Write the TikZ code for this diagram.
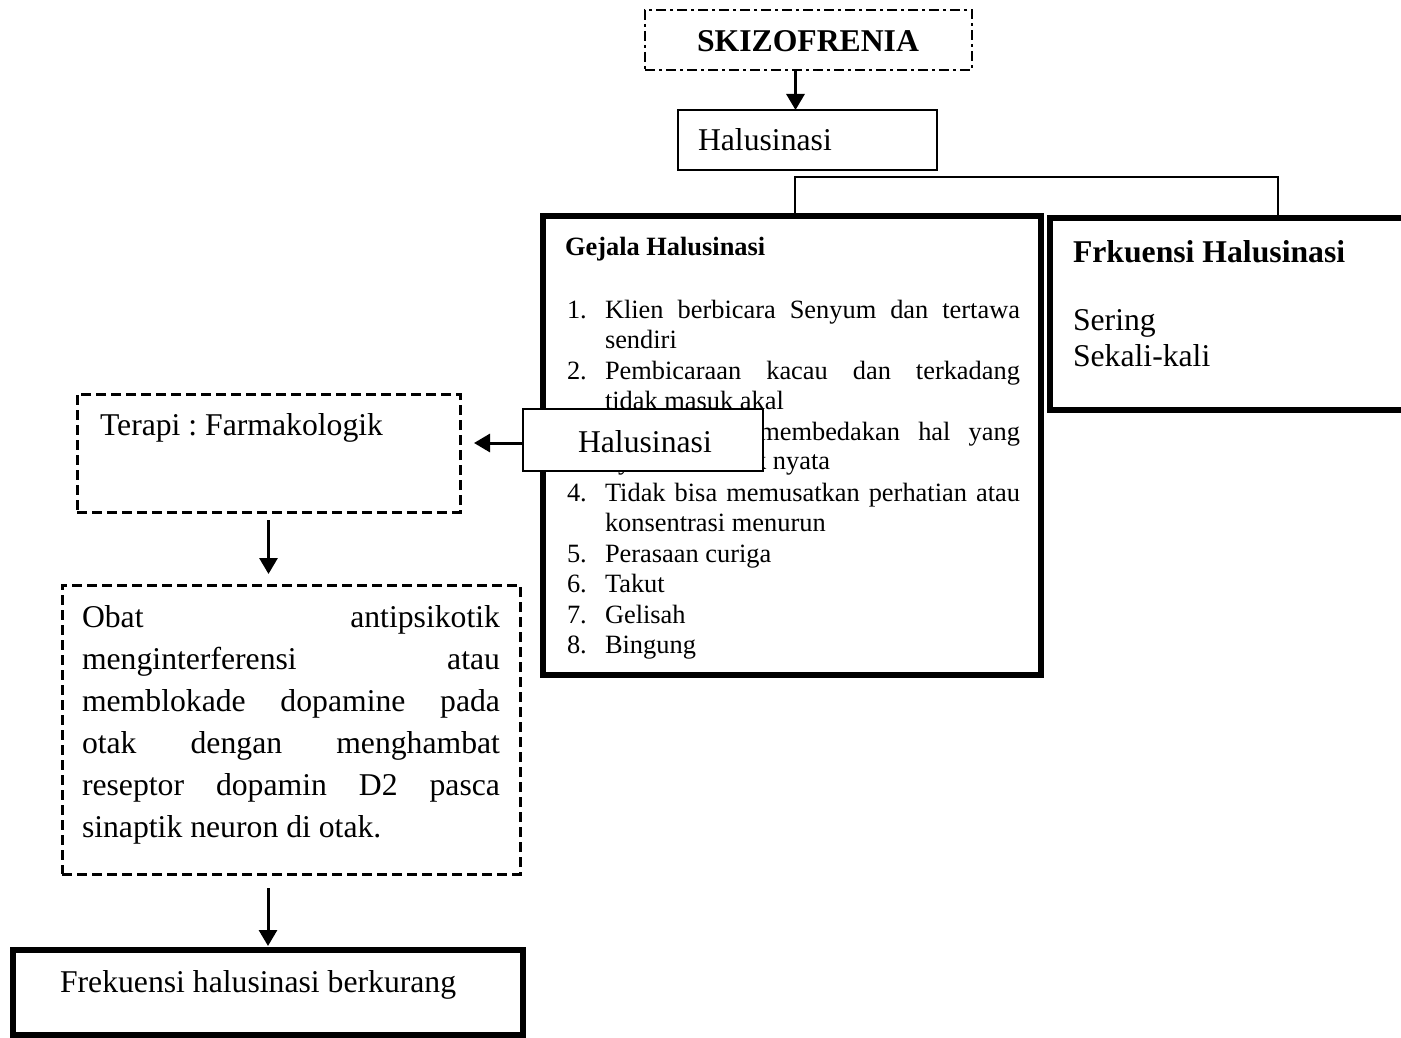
\documentclass[tikz,border=0pt]{standalone}
\usepackage{fontspec}
\setmainfont{Liberation Serif}
\usetikzlibrary{arrows.meta}
\frenchspacing
\newcommand\bigfs{\fontsize{31.7pt}{38pt}\selectfont}
\newcommand\smfs{\fontsize{26.4pt}{30.5pt}\selectfont}
\begin{document}
\begin{tikzpicture}[x=1pt,y=-1pt,
  box/.style={draw,rectangle,inner sep=0pt,outer sep=0pt},
  thinbox/.style={box,line width=2.5pt},
  thickbox/.style={box,line width=6pt},
  dashbox/.style={box,line width=3pt,dash pattern=on 10pt off 5pt},
  dotdash/.style={box,line width=2pt,dash pattern=on 10pt off 4pt on 3pt off 4pt},
  txt/.style={inner sep=0pt,outer sep=0pt,anchor=base west,font=\bigfs},
  sm/.style={inner sep=0pt,outer sep=0pt,anchor=base west,font=\smfs},
  arr/.style={line width=3pt,-{Triangle[length=16pt,width=18pt]}},
  conn/.style={line width=2.5pt}]
\fill[white] (0,0) rectangle (1401,1038);
\useasboundingbox (0,0) rectangle (1401,1038);

% top
\node[dotdash, minimum width=327pt, minimum height=60pt] (skiz) at (808.5,40) {};
\node[inner sep=0pt, font=\bigfs\bfseries] (skiztxt) at (808,41) {SKIZOFRENIA};
\node[thinbox, minimum width=259pt, minimum height=60pt] (hal) at (807.5,140) {};
\node[txt] (haltxt) at (698,151) {Halusinasi};
\draw[arr] ([xshift=-13pt]skiz.south) -- ([xshift=-12pt]hal.north);

% Gejala box
\node[thickbox, minimum width=498pt, minimum height=459pt] (gej) at (792,445.5) {};
\node[sm, font=\smfs\bfseries] (gejt) at (565,255) {Gejala Halusinasi};
\node[sm] (g1n) at (567,318) {1.};
\node[sm] (g1) at (605,318) {\makebox[415pt][s]{Klien berbicara Senyum dan tertawa}};
\node[sm] (g1b) at (605,348.5) {sendiri};
\node[sm] (g2n) at (567,379) {2.};
\node[sm] (g2) at (605,379) {\makebox[415pt][s]{Pembicaraan kacau dan terkadang}};
\node[sm] (g2b) at (605,409) {tidak masuk akal};
\node[sm] (g3n) at (567,440) {3.};
\node[sm] (g3) at (605,440) {\makebox[415pt][s]{Tidak dapat membedakan hal yang}};
\node[sm] (g3b) at (605,469) {nyata dan tidak nyata};
\node[sm] (g4n) at (567,501) {4.};
\node[sm] (g4) at (605,501) {\makebox[415pt][s]{Tidak bisa memusatkan perhatian atau}};
\node[sm] (g4b) at (605,531) {konsentrasi menurun};
\node[sm] (g5n) at (567,562) {5.};
\node[sm] (g5) at (605,562) {Perasaan curiga};
\node[sm] (g6n) at (567,592) {6.};
\node[sm] (g6) at (605,592) {Takut};
\node[sm] (g7n) at (567,623) {7.};
\node[sm] (g7) at (605,623) {Gelisah};
\node[sm] (g8n) at (567,653) {8.};
\node[sm] (g8) at (605,653) {Bingung};

% Frekuensi box
\node[thickbox, minimum width=360pt, minimum height=192pt] (frk) at (1230,314) {};
\node[txt, font=\bigfs\bfseries] (frkt) at (1073,262) {Frkuensi Halusinasi};
\node[txt] (frk1) at (1073,330) {Sering};
\node[txt] (frk2) at (1073,366) {Sekali-kali};

% bracket connector
\draw[conn] ([xshift=3pt]gej.north) -- ++(0,-39) -| ([xshift=48pt]frk.north);

% overlay Halusinasi
\node[thinbox, fill=white, minimum width=240pt, minimum height=62pt] (ov) at (643,440) {};
\node[txt] (ovt) at (578,452) {Halusinasi};

% left column
\node[dashbox, minimum width=383pt, minimum height=118pt] (ter) at (268.5,453) {};
\node[txt] (tert) at (100,435) {Terapi : Farmakologik};
\draw[arr, shorten >=14pt] ([yshift=-3pt]ov.west) -- ([yshift=-3pt]ov.west -| ter.east);

\node[dashbox, minimum width=458pt, minimum height=289pt] (obat) at (291,729.5) {};
\node[txt] (o1) at (82,627) {\makebox[418pt][s]{Obat antipsikotik}};
\node[txt] (o2) at (82,669) {\makebox[418pt][s]{menginterferensi atau}};
\node[txt] (o3) at (82,711) {\makebox[418pt][s]{memblokade dopamine pada}};
\node[txt] (o4) at (82,753) {\makebox[418pt][s]{otak dengan menghambat}};
\node[txt] (o5) at (82,795) {\makebox[418pt][s]{reseptor dopamin D2 pasca}};
\node[txt] (o6) at (82,837) {sinaptik neuron di otak.};
\draw[arr, shorten <=8pt, shorten >=11pt] (ter.south) -- (ter.south |- obat.north);

\node[thickbox, minimum width=510pt, minimum height=85pt] (bot) at (268,992.5) {};
\node[txt] (bott) at (60,992) {Frekuensi halusinasi berkurang};
\draw[arr, shorten <=14pt, shorten >=4pt] (bot.north |- obat.south) -- (bot.north);
\end{tikzpicture}
\end{document}
